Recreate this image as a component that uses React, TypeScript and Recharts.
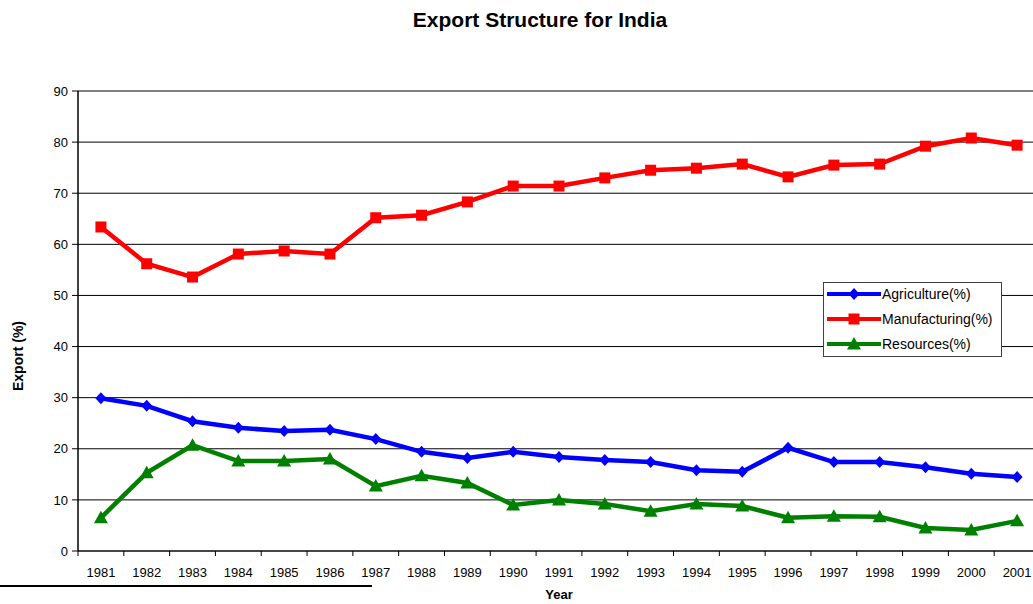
import { LineChart, Line, XAxis, YAxis, CartesianGrid, ReferenceLine } from 'recharts';

// export shares by sector
const years = ['1981', '1982', '1983', '1984', '1985', '1986', '1987', '1988', '1989', '1990', '1991',
    '1992', '1993', '1994', '1995', '1996', '1997', '1998', '1999', '2000', '2001'];
const agriculture = [29.9, 28.4, 25.4, 24.1, 23.5, 23.7, 21.9, 19.4, 18.2, 19.4, 18.4,
    17.8, 17.4, 15.8, 15.5, 20.2, 17.4, 17.4, 16.4, 15.1, 14.5];
const manufacturing = [63.4, 56.2, 53.6, 58.1, 58.7, 58.1, 65.2, 65.7, 68.3, 71.4, 71.4,
    73.0, 74.5, 74.9, 75.7, 73.2, 75.5, 75.7, 79.2, 80.8, 79.4];
const resources = [6.5, 15.3, 20.7, 17.6, 17.6, 18.0, 12.7, 14.7, 13.3, 9.0, 10.0,
    9.2, 7.8, 9.2, 8.8, 6.5, 6.8, 6.7, 4.5, 4.1, 5.9];
const yTicks = [0, 10, 20, 30, 40, 50, 60, 70, 80, 90];

const data = years.map((year, i) => ({
    year,
    agriculture: agriculture[i],
    manufacturing: manufacturing[i],
    resources: resources[i],
}));

const FONT = '"Liberation Sans", Arial, Helvetica, sans-serif';
const CHART_W = 1045;
const CHART_H = 604;
const MARGIN = { top: 91, right: 5, bottom: 23, left: 48 };
const YAXIS_W = 30;
const PLOT_W = CHART_W - MARGIN.left - MARGIN.right - YAXIS_W;
const HALF = PLOT_W / years.length / 2;

const Diamond = ({ cx, cy }: any) => (
    <path d={`M${cx},${cy - 6}L${cx + 5.5},${cy}L${cx},${cy + 6}L${cx - 5.5},${cy}Z`} fill="#0000ff" />
);
const Square = ({ cx, cy }: any) => (
    <rect x={cx - 5.5} y={cy - 5.5} width={11} height={11} fill="#ff0000" />
);
const Triangle = ({ cx, cy }: any) => (
    <path d={`M${cx},${cy - 7}L${cx + 7},${cy + 5.5}L${cx - 7},${cy + 5.5}Z`} fill="#008000" />
);

const XTick = ({ x, y, payload }: any) => (
    <g>
        <line x1={x - HALF} y1={y} x2={x - HALF} y2={y + 5} stroke="#000" />
        <text x={x} y={y + 26} textAnchor="middle" fontSize={13} fill="#000" fontFamily={FONT}>
            {payload.value}
        </text>
    </g>
);

const legendItems = [
    { name: 'Agriculture(%)', color: '#0000ff', Marker: Diamond },
    { name: 'Manufacturing(%)', color: '#ff0000', Marker: Square },
    { name: 'Resources(%)', color: '#008000', Marker: Triangle },
];

const LegendBox = () => (
    <div style={{ position: 'absolute', left: 823, top: 282, width: 179, height: 75, border: '1px solid #404040', background: '#fff', boxSizing: 'border-box' }}>
        <svg width={177} height={73} style={{ display: 'block' }}>
            {legendItems.map((it, i) => {
                const cy = 11 + i * 25;
                return (
                    <g key={it.name}>
                        <line x1={3} y1={cy} x2={57} y2={cy} stroke={it.color} strokeWidth={4} />
                        <it.Marker cx={30} cy={cy} />
                        <text x={58} y={cy + 5} fontSize={14} fill="#000" fontFamily={FONT}>{it.name}</text>
                    </g>
                );
            })}
        </svg>
    </div>
);

export default function App() {
    return (
        <div style={{ position: 'fixed', left: 0, top: 0, width: 1033, height: 604, overflow: 'hidden', background: '#fff', fontFamily: FONT }}>
            <div style={{ position: 'absolute', left: 0, width: 1080, top: 8, textAlign: 'center', fontWeight: 'bold', fontSize: 21 }}>
                Export Structure for India
            </div>
            <div style={{ position: 'absolute', left: 0, top: 585, width: 372, height: 2, background: '#000' }} />
            <LineChart width={CHART_W} height={CHART_H} data={data} margin={MARGIN} style={{ fontFamily: FONT }}>
                <CartesianGrid vertical={false} stroke="#000" strokeWidth={1} />
                <ReferenceLine y={90} stroke="#808080" strokeWidth={2} />
                <XAxis
                    dataKey="year"
                    interval={0}
                    height={30}
                    padding={{ left: HALF, right: HALF }}
                    tickLine={false}
                    tickSize={0}
                    tickMargin={0}
                    tick={<XTick />}
                    axisLine={{ stroke: '#333', strokeWidth: 1.5 }}
                    label={{ value: 'Year', position: 'bottom', offset: 9, fontSize: 13, fontWeight: 'bold', fill: '#000' }}
                />
                <YAxis
                    width={YAXIS_W}
                    domain={[0, 90]}
                    ticks={yTicks}
                    interval={0}
                    tickSize={6}
                    tickMargin={4}
                    tickLine={{ stroke: '#000' }}
                    axisLine={{ stroke: '#000', strokeWidth: 1.5 }}
                    tick={{ fontSize: 13, fill: '#000' }}
                    label={{ value: 'Export (%)', angle: -90, position: 'left', offset: 30, fontSize: 14, fontWeight: 'bold', fill: '#000' }}
                />
                <Line dataKey="agriculture" name="Agriculture(%)" stroke="#0000ff" strokeWidth={4.5}
                    dot={<Diamond />} activeDot={false} isAnimationActive={false} />
                <Line dataKey="manufacturing" name="Manufacturing(%)" stroke="#ff0000" strokeWidth={4.5}
                    dot={<Square />} activeDot={false} isAnimationActive={false} />
                <Line dataKey="resources" name="Resources(%)" stroke="#008000" strokeWidth={4.5}
                    dot={<Triangle />} activeDot={false} isAnimationActive={false} />
            </LineChart>
            <LegendBox />
        </div>
    );
}
